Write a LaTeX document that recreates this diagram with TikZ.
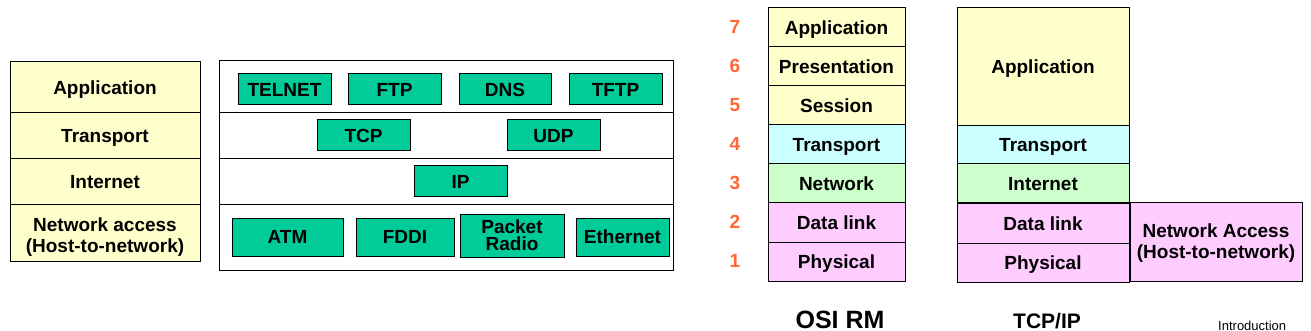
\documentclass[tikz,border=0pt]{standalone}
\usepackage{fontspec}
\setmainfont{Liberation Sans}
\usetikzlibrary{calc}
\definecolor{ly}{HTML}{FFFFCC}
\definecolor{lc}{HTML}{CCFFFF}
\definecolor{lg}{HTML}{CCFFCC}
\definecolor{lp}{HTML}{FFCCFF}
\definecolor{gb}{HTML}{00CC99}
\definecolor{org}{HTML}{FF6633}
\newcommand\mybox[7]{%
  \pgfmathsetmacro\bw{#4-#2}\pgfmathsetmacro\bh{#5-#3}%
  \node[#6, minimum width=\bw pt, minimum height=\bh pt, anchor=north west] (#1) at (#2,#3) {#7};}
\begin{document}
\begin{tikzpicture}[x=1pt,y=-1pt,
  base/.style={draw=black, line width=1pt, inner sep=0pt, outer sep=0pt, align=center,
    font=\fontsize{19}{21}\selectfont\bfseries, text height=16pt, text depth=2.4pt},
  ml/.style={text height=, text depth=},
  yel/.style={base, fill=ly},
  cya/.style={base, fill=lc},
  grn/.style={base, fill=lg},
  pnk/.style={base, fill=lp},
  wht/.style={base, fill=white},
  proto/.style={base, fill=gb},
  num/.style={text=org, font=\fontsize{19}{19}\selectfont\bfseries, inner sep=0pt,
    text height=16pt, text depth=2.4pt},
  caption/.style={font=\fontsize{25}{25}\selectfont\bfseries, inner sep=0pt, anchor=base}
]
\useasboundingbox (0,0) rectangle (1311,331);
\clip (0,0) rectangle (1311,331);
% left stack
\mybox{la}{10}{62}{200}{113}{yel}{Application}
\mybox{lt}{10}{113}{200}{159}{yel}{Transport}
\mybox{li}{10}{159}{200}{205}{yel}{Internet}
\mybox{ln}{10}{205}{200}{261}{yel}{}
\node[ml, font=\fontsize{19}{21}\selectfont\bfseries, align=center, inner sep=0pt, yshift=-4.5pt] (lnt) at (ln.center) {Network access\\(Host-to-network)};
% middle
\mybox{m1}{219}{61}{673}{113}{wht}{}
\mybox{m2}{219}{113}{673}{159}{wht}{}
\mybox{m3}{219}{159}{673}{205}{wht}{}
\mybox{m4}{219}{205}{673}{270}{wht}{}
\mybox{telnet}{238}{74}{331}{105}{proto}{TELNET}
\mybox{ftp}{348}{74}{441}{105}{proto}{FTP}
\mybox{dns}{459}{74}{551}{105}{proto}{DNS}
\mybox{tftp}{569}{74}{662}{105}{proto}{TFTP}
\mybox{tcp}{317}{120}{410}{151}{proto}{TCP}
\mybox{udp}{507}{120}{600}{151}{proto}{UDP}
\mybox{ip}{414}{166}{507}{197}{proto}{IP}
\mybox{atm}{232}{218}{343}{256}{proto}{ATM}
\mybox{fddi}{356}{218}{454}{256}{proto}{FDDI}
\mybox{pr}{460}{214}{564}{257}{proto, ml, font=\fontsize{19}{17}\selectfont\bfseries}{Packet\\Radio}
\mybox{eth}{576}{218}{669}{256}{proto}{Ethernet}
% OSI
\mybox{o7}{768}{8}{905}{47}{yel}{Application}
\mybox{o6}{768}{47}{905}{86}{yel}{Presentation}
\mybox{o5}{768}{86}{905}{125}{yel}{Session}
\mybox{o4}{768}{125}{905}{164}{cya}{Transport}
\mybox{o3}{768}{164}{905}{203}{grn}{Network}
\mybox{o2}{768}{203}{905}{242}{pnk}{Data link}
\mybox{o1}{768}{242}{905}{281}{pnk}{Physical}
\foreach \k in {1,...,7} {\node[num] (n\k) at ($(o\k.west)+(-33,-1)$) {\k};}
\node[caption] (osi) at (840,328) {OSI RM};
% TCP/IP
\mybox{ta}{957}{8}{1129}{126}{yel}{Application}
\mybox{tt}{957}{126}{1129}{164}{cya}{Transport}
\mybox{ti}{957}{164}{1129}{203}{grn}{Internet}
\mybox{td}{957}{204}{1129}{243}{pnk}{Data link}
\mybox{tp}{957}{243}{1129}{282}{pnk}{Physical}
\mybox{tn}{1130}{203}{1302}{281}{pnk}{}
\node[ml, font=\fontsize{19}{21}\selectfont\bfseries, align=center, inner sep=0pt, yshift=-1pt] (tnt) at (tn.center) {Network Access\\(Host-to-network)};
\node[caption, font=\fontsize{21}{21}\selectfont\bfseries] (tcpip) at (1047,328) {TCP/IP};
\node[anchor=base west, inner sep=0pt, font=\fontsize{13}{13}\selectfont] (intro) at (1218,330) {Introduction};
\end{tikzpicture}
\end{document}
